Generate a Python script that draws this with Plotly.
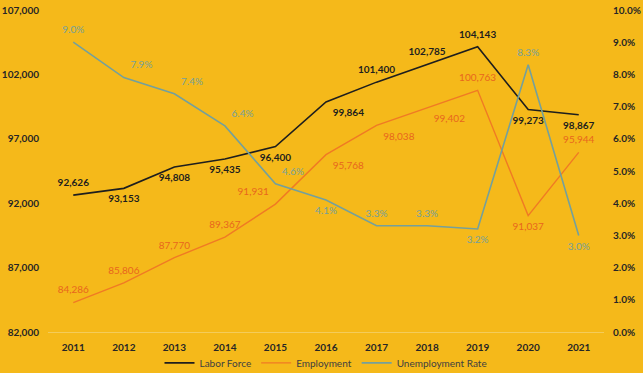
import plotly.graph_objects as go

years = ["2011", "2012", "2013", "2014", "2015", "2016", "2017", "2018", "2019", "2020", "2021"]
labor_force = [92626, 93153, 94808, 95435, 96400, 99864, 101400, 102785, 104143, 99273, 98867]
employment = [84286, 85806, 87770, 89367, 91931, 95768, 98038, 99402, 100763, 91037, 95944]
unemployment_rate = [0.090, 0.079, 0.074, 0.064, 0.046, 0.041, 0.033, 0.033, 0.032, 0.083, 0.030]

labor_pos = ["top center", "bottom center", "bottom center", "bottom center", "bottom center",
             "bottom right", "top center", "top center", "top center", "bottom center", "bottom center"]
emp_pos = ["top center", "top center", "top center", "top center", "top left",
           "bottom right", "bottom right", "bottom right", "top center", "bottom center", "top center"]
unemp_pos = ["top center", "top right", "top right", "top right", "top right",
             "bottom center", "top center", "top center", "bottom center", "top center", "bottom center"]

BG = "#F5B91A"
FONT = "Lato"
C_LABOR = "#1E1E1E"
C_EMP = "#F07A24"
C_EMP_TXT = "#E8661E"
C_UNEMP = "#74A09C"
C_UNEMP_TXT = "#74A09C"
CLEAR = "rgba(0,0,0,0)"

fig = go.Figure()

fig.add_trace(go.Scatter(
    x=years, y=labor_force, name="Labor Force", mode="lines+markers+text",
    line=dict(color=C_LABOR, width=1.6),
    marker=dict(size=9, color=CLEAR, line=dict(width=0, color=CLEAR)),
    text=[f"{v:,}" for v in labor_force], textposition=labor_pos,
    textfont=dict(family=FONT, size=10, color=C_LABOR, weight="bold"),
    cliponaxis=False, yaxis="y"))

fig.add_trace(go.Scatter(
    x=years, y=employment, name="Employment", mode="lines+markers+text",
    line=dict(color=C_EMP, width=1.4),
    marker=dict(size=9, color=CLEAR, line=dict(width=0, color=CLEAR)),
    text=[f"{v:,}" for v in employment], textposition=emp_pos,
    textfont=dict(family=FONT, size=10, color=C_EMP_TXT),
    cliponaxis=False, yaxis="y"))

fig.add_trace(go.Scatter(
    x=years, y=unemployment_rate, name="Unemployment Rate", mode="lines+markers+text",
    line=dict(color=C_UNEMP, width=1.6),
    marker=dict(size=9, color=CLEAR, line=dict(width=0, color=CLEAR)),
    text=[f"{v*100:.1f}%" for v in unemployment_rate], textposition=unemp_pos,
    textfont=dict(family=FONT, size=10, color=C_UNEMP_TXT),
    cliponaxis=False, yaxis="y2"))

fig.update_layout(
    width=643, height=373,
    paper_bgcolor=BG, plot_bgcolor=BG,
    margin=dict(l=48, r=39, t=10, b=41, autoexpand=False),
    font=dict(family=FONT, size=10, color="#262626"),
    xaxis=dict(type="category", range=[-0.5, 10.5], showgrid=False, automargin=False,
               showline=True, linecolor="#F4CC5A", linewidth=1,
               ticks="", tickfont=dict(family=FONT, size=10, color="#262626", weight="bold"),
               ticklabelstandoff=6),
    yaxis=dict(range=[82000, 107000], tick0=82000, dtick=5000, tickformat=",", showgrid=False,
               zeroline=False, ticks="", ticklabelstandoff=8, automargin=False,
               tickfont=dict(family=FONT, size=10, color="#262626", weight="bold")),
    yaxis2=dict(range=[0, 0.10], tick0=0, dtick=0.01, tickformat=".1%", overlaying="y", side="right",
                showgrid=False, zeroline=False, ticks="", ticklabelstandoff=8, automargin=False,
                tickfont=dict(family=FONT, size=10, color="#262626", weight="bold")),
    legend=dict(orientation="h", x=0.5, xanchor="center", y=-0.096, yanchor="middle",
                bgcolor="rgba(0,0,0,0)", font=dict(family=FONT, size=10, color="#404040"),
                itemwidth=30, tracegroupgap=0),
    showlegend=True,
    hovermode=False,
)

fig.write_html(
    "out.html",
    config={"displayModeBar": False},
    post_script="document.body.style.margin='0';document.body.style.background='" + BG + "';",
)
